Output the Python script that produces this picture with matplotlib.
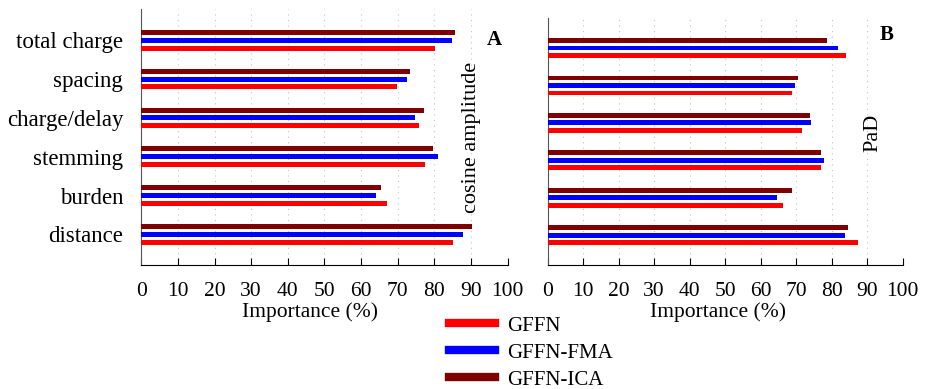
import numpy as np
import matplotlib.pyplot as plt
from matplotlib.lines import Line2D

plt.rcParams['font.family'] = 'Liberation Serif'

# Input variables, bottom to top as drawn
features = ['distance', 'burden', 'stemming', 'charge/delay', 'spacing', 'total charge']
series = ['GFFN', 'GFFN-FMA', 'GFFN-ICA']
colors = ['#ff0000', '#0000ff', '#7f0000']

# A: cosine amplitude importance (%)
ca_gffn = [85.2, 67.2, 77.5, 75.7, 69.8, 80.3]
ca_fma = [87.7, 64.1, 81.1, 74.8, 72.4, 84.7]
ca_ica = [90.4, 65.3, 79.6, 77.3, 73.3, 85.5]

# B: PaD importance (%)
pad_gffn = [87.3, 66.4, 76.9, 71.5, 68.9, 83.9]
pad_fma = [83.8, 64.7, 77.8, 74.2, 69.7, 81.7]
pad_ica = [84.7, 68.7, 76.9, 74.0, 70.4, 78.8]

fig = plt.figure(figsize=(9.33, 3.89), dpi=100)
ax1 = fig.add_axes([0.1514, 0.3188, 0.3927, 0.6573])
ax2 = fig.add_axes([0.5870, 0.3188, 0.3805, 0.635])

y = np.arange(len(features))
h = 0.13
offs = [-0.2, 0.0, 0.2]

for ax, vals in [(ax1, [ca_gffn, ca_fma, ca_ica]), (ax2, [pad_gffn, pad_fma, pad_ica])]:
    for v, c, o in zip(vals, colors, offs):
        ax.barh(y + o, v, height=h, color=c, zorder=3)
    ax.set_xlim(0, 100)
    ax.set_ylim(-0.79, 5.8)
    ax.set_xticks(np.arange(0, 101, 10))
    ax.tick_params(axis='x', direction='in', length=5, pad=12, labelsize=15.5)
    ax.tick_params(axis='y', length=0, labelsize=16.5)
    ax.xaxis.grid(True, linestyle=(0, (1, 4)), color='#c4c4c4', linewidth=0.8)
    ax.spines['top'].set_visible(False)
    ax.spines['right'].set_visible(False)
    ax.spines['left'].set_color('#555555')
    ax.set_xlabel('Importance (%)', fontsize=15.5)
    ax.set_yticks(y)

ax1.set_yticklabels(features)
ax1.tick_params(axis='y', pad=13)
ax2.set_yticklabels([])
ax1.xaxis.set_label_coords(0.46, -0.145)
ax2.xaxis.set_label_coords(0.48, -0.15)

ax1.text(0.965, 0.88, 'A', transform=ax1.transAxes, fontsize=15, fontweight='bold',
         ha='center', va='center')
ax1.text(0.9026, 0.5, 'cosine amplitude', transform=ax1.transAxes, fontsize=16,
         rotation=90, ha='center', va='center')
ax2.text(0.955, 0.93, 'B', transform=ax2.transAxes, fontsize=15, fontweight='bold',
         ha='center', va='center')
ax2.text(0.916, 0.534, 'PaD', transform=ax2.transAxes, fontsize=16,
         rotation=90, ha='center', va='center')

handles = [Line2D([0], [0], color=c, linewidth=6) for c in colors]
fig.legend(handles, series, loc='center', bbox_to_anchor=(0.569, 0.093),
           frameon=False, fontsize=15, handlelength=2.2, handletextpad=0.6,
           labelspacing=0.36, borderpad=0)

fig.savefig('out.png', dpi=100)
